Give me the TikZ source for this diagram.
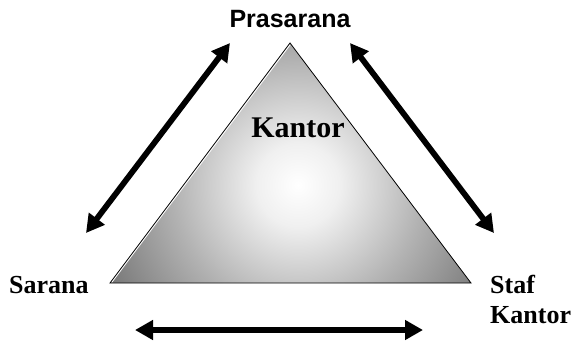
\documentclass[tikz,border=0pt]{standalone}
\usepackage{fontspec}
\setmainfont{Liberation Serif}
\newfontfamily\arialf{Liberation Sans}
\usetikzlibrary{arrows.meta}
\pgfdeclareradialshading{kantshade}{\pgfpoint{0bp}{0bp}}{color(0bp)=(white); color(4bp)=(white!94!black); color(12bp)=(black!30); color(20bp)=(black!52); color(50bp)=(black!50)}
\tikzset{
  lbl/.style={font=\bfseries\fontsize{26}{28}\selectfont, inner sep=0pt, align=left},
  dbl/.style={line width=5.8pt, {Triangle[length=18pt,width=19pt]}-{Triangle[length=18pt,width=19pt]}, shorten <=0pt, shorten >=0pt},
}
\begin{document}
\begin{tikzpicture}[x=1pt,y=-1pt]
\useasboundingbox (0,0) rectangle (573,341);
% triangle corners
\coordinate (apex) at (290,43);
\coordinate (bl) at (110,283);
\coordinate (br) at (471,283);
\begin{scope}
  \clip (apex) -- (bl) -- (br) -- cycle;
  \shade[shading=kantshade] (298,185) circle (260);
\end{scope}
\draw[white, line width=1.2pt] ([xshift=1.3pt,yshift=0.3pt]bl) -- ([yshift=-1.6pt]apex);
\draw[black, line width=0.8pt, line join=miter] (apex) -- (bl) -- (br) -- cycle;
\node[lbl, font=\bfseries\fontsize{30}{32}\selectfont] (kantor) at (298,128) {Kantor};
% labels
\node[lbl, font=\arialf\bfseries\fontsize{25}{27}\selectfont] (pras) at (290,19) {Prasarana};
\node[lbl, anchor=base west] (sar) at (9,293) {Sarana};
\node[lbl, anchor=base west] (staf) at (490,293) {Staf};
\node[lbl, anchor=base west] (stk) at (490,323) {Kantor};
% arrows
\coordinate (l1) at (86,233);
\coordinate (l2) at (230,43);
\coordinate (r1) at (350,43);
\coordinate (r2) at (494,233);
\coordinate (b1) at (135,330);
\coordinate (b2) at (423,330);
\draw[dbl] (l1) -- (l2);
\draw[dbl] (r1) -- (r2);
\draw[dbl] (b1) -- (b2);
\end{tikzpicture}
\end{document}
